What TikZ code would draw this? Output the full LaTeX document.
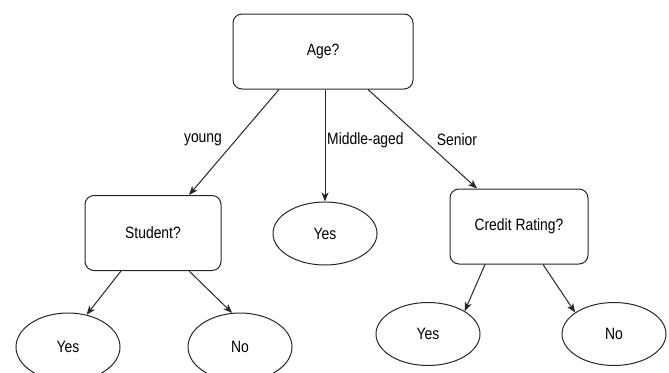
\documentclass[tikz,border=0pt]{standalone}
\usepackage{fontspec}
\setmainfont{Liberation Sans}
\usetikzlibrary{arrows.meta,shapes.geometric}
\newcommand{\tx}[1]{\scalebox{1}[1.18]{#1}}
\begin{document}
\begin{tikzpicture}[x=1pt,y=-1pt,
  font=\fontsize{13.9}{16}\selectfont,
  box/.style={draw=black!85,line width=1pt,rounded corners=9pt,minimum height=75pt,inner sep=0pt},
  leaf/.style={draw=black!85,line width=1pt,ellipse,minimum width=104pt,minimum height=63pt,inner sep=0pt},
  conn/.style={draw=black!85,line width=1pt,-{Stealth[length=9pt,width=7pt,inset=2.5pt]}},
  lbl/.style={inner sep=0pt}]
\useasboundingbox (0,0) rectangle (669,372);
\node[box,minimum width=180pt] (age) at (323,51.5) {\tx{Age?}};
\node[box,minimum width=136pt] (student) at (153,233) {\tx{Student?}};
\node[box,minimum width=138pt] (credit) at (519,226.5) {\tx{Credit Rating?}};
\node[leaf] (yesm) at (325,233.5) {\tx{Yes}};
\node[leaf,minimum height=68pt] (yes1) at (68,347) {\tx{Yes}};
\node[leaf,minimum height=68pt] (no1) at (240,347) {\tx{No}};
\node[leaf] (yes2) at (428,334) {\tx{Yes}};
\node[leaf] (no2) at (614,334) {\tx{No}};
\draw[conn] ([xshift=-44pt]age.south) -- ([xshift=36pt]student.north);
\draw[conn] ([xshift=2pt]age.south) -- (yesm.north);
\draw[conn] ([xshift=45pt]age.south) -- ([xshift=-42pt]credit.north);
\draw[conn] ([xshift=-32pt]student.south) -- (yes1.60);
\draw[conn] ([xshift=36pt]student.south) -- (no1.103);
\draw[conn] ([xshift=-34pt]credit.south) -- (yes2.32);
\draw[conn] ([xshift=24pt]credit.south) -- (no2.151);
\node[lbl] (ly) at (203,140) {\tx{young}};
\node[lbl,anchor=west] (lm) at (327,140) {\tx{Middle-aged}};
\node[lbl] (ls) at (457,140) {\tx{Senior}};
\end{tikzpicture}
\end{document}
